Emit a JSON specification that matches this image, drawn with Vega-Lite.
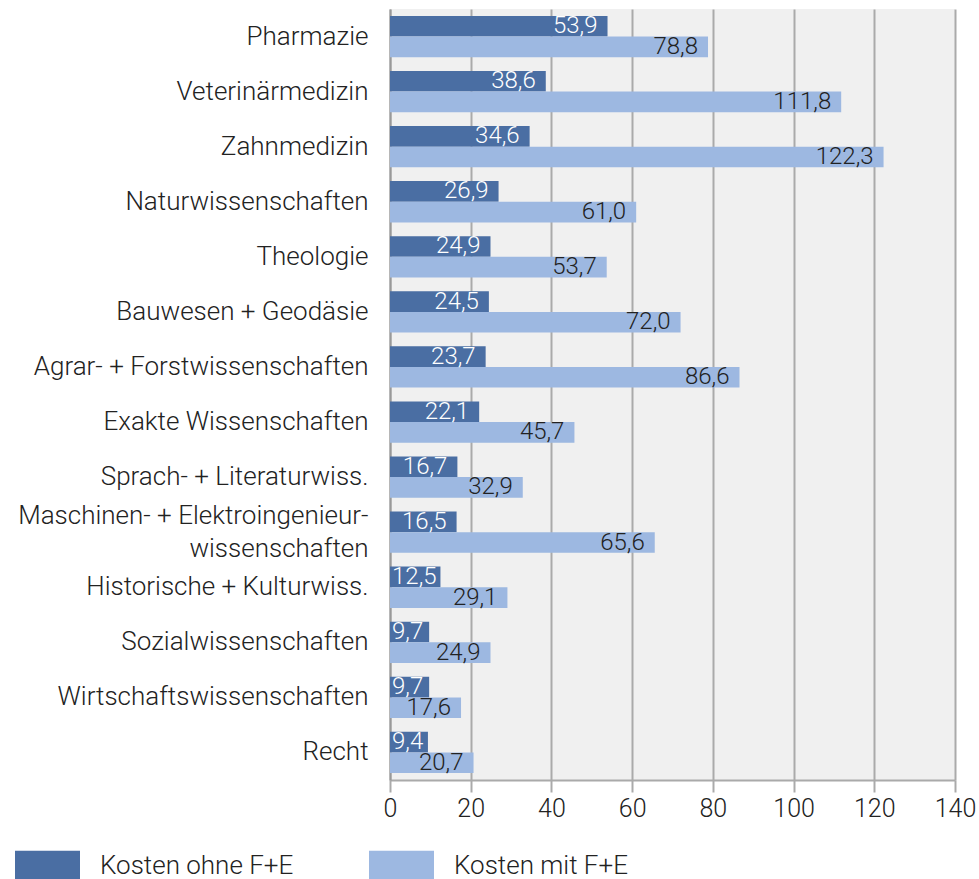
{
  "$schema": "https://vega.github.io/schema/vega-lite/v6.json",
  "autosize": {"type": "none"},
  "padding": {"left": 390, "top": 9, "right": 24, "bottom": 99},
  "width": 565,
  "height": 771,
  "background": "white",
  "config": {
    "locale": {"number": {"decimal": ",", "thousands": ".", "grouping": [3], "currency": ["", " €"]}},
    "font": "Roboto",
    "view": {"fill": "#f0f0f0", "stroke": null},
    "axis": {"labelFont": "Roboto", "labelFontWeight": 300, "labelFontSize": 25, "labelColor": "#222"}
  },
  "data": {"values": [
    {"cat": "Pharmazie", "series": "Kosten ohne F+E", "value": 53.9},
    {"cat": "Pharmazie", "series": "Kosten mit F+E", "value": 78.8},
    {"cat": "Veterinärmedizin", "series": "Kosten ohne F+E", "value": 38.6},
    {"cat": "Veterinärmedizin", "series": "Kosten mit F+E", "value": 111.8},
    {"cat": "Zahnmedizin", "series": "Kosten ohne F+E", "value": 34.6},
    {"cat": "Zahnmedizin", "series": "Kosten mit F+E", "value": 122.3},
    {"cat": "Naturwissenschaften", "series": "Kosten ohne F+E", "value": 26.9},
    {"cat": "Naturwissenschaften", "series": "Kosten mit F+E", "value": 61.0},
    {"cat": "Theologie", "series": "Kosten ohne F+E", "value": 24.9},
    {"cat": "Theologie", "series": "Kosten mit F+E", "value": 53.7},
    {"cat": "Bauwesen + Geodäsie", "series": "Kosten ohne F+E", "value": 24.5},
    {"cat": "Bauwesen + Geodäsie", "series": "Kosten mit F+E", "value": 72.0},
    {"cat": "Agrar- + Forstwissenschaften", "series": "Kosten ohne F+E", "value": 23.7},
    {"cat": "Agrar- + Forstwissenschaften", "series": "Kosten mit F+E", "value": 86.6},
    {"cat": "Exakte Wissenschaften", "series": "Kosten ohne F+E", "value": 22.1},
    {"cat": "Exakte Wissenschaften", "series": "Kosten mit F+E", "value": 45.7},
    {"cat": "Sprach- + Literaturwiss.", "series": "Kosten ohne F+E", "value": 16.7},
    {"cat": "Sprach- + Literaturwiss.", "series": "Kosten mit F+E", "value": 32.9},
    {"cat": "Maschinen- + Elektroingenieur-\nwissenschaften", "series": "Kosten ohne F+E", "value": 16.5},
    {"cat": "Maschinen- + Elektroingenieur-\nwissenschaften", "series": "Kosten mit F+E", "value": 65.6},
    {"cat": "Historische + Kulturwiss.", "series": "Kosten ohne F+E", "value": 12.5},
    {"cat": "Historische + Kulturwiss.", "series": "Kosten mit F+E", "value": 29.1},
    {"cat": "Sozialwissenschaften", "series": "Kosten ohne F+E", "value": 9.7},
    {"cat": "Sozialwissenschaften", "series": "Kosten mit F+E", "value": 24.9},
    {"cat": "Wirtschaftswissenschaften", "series": "Kosten ohne F+E", "value": 9.7},
    {"cat": "Wirtschaftswissenschaften", "series": "Kosten mit F+E", "value": 17.6},
    {"cat": "Recht", "series": "Kosten ohne F+E", "value": 9.4},
    {"cat": "Recht", "series": "Kosten mit F+E", "value": 20.7}
  ]},
  "encoding": {
    "y": {
      "field": "cat", "type": "nominal", "sort": null, "title": null,
      "scale": {"paddingInner": 0.25, "paddingOuter": 0.125},
      "axis": {
        "labelExpr": "split(datum.label, '\\n')", "labelLineHeight": 33, "labelPadding": 22,
        "labelFontSize": 26,
        "labelOffset": {"condition": {"test": "indexof(datum.label, '\\n') >= 0", "value": -16}, "value": 0},
        "ticks": false, "domainColor": "#999", "domainWidth": 2, "labelLimit": 400
      }
    },
    "yOffset": {"field": "series", "type": "nominal", "sort": ["Kosten ohne F+E", "Kosten mit F+E"]},
    "x": {
      "field": "value", "type": "quantitative", "title": null,
      "scale": {"domain": [0, 140], "nice": false},
      "axis": {"values": [0, 20, 40, 60, 80, 100, 120, 140], "format": "d", "grid": true, "gridColor": "#aaa", "gridWidth": 2, "domainColor": "#aaa", "domainWidth": 2, "tickColor": "#aaa", "tickWidth": 2, "tickSize": 12, "labelPadding": 4, "labelFlush": false}
    }
  },
  "layer": [
    {
      "mark": {"type": "bar"},
      "encoding": {
        "color": {
          "field": "series", "type": "nominal", "title": null,
          "sort": ["Kosten ohne F+E", "Kosten mit F+E"],
          "scale": {"domain": ["Kosten ohne F+E", "Kosten mit F+E"], "range": ["#4a6ea3", "#9db8e1"]},
          "legend": {
            "orient": "none", "direction": "horizontal", "legendX": -375, "legendY": 824,
            "symbolType": "M-1,-0.46H1V0.46H-1Z", "symbolSize": 4225, "symbolStrokeWidth": 0,
            "labelFont": "Roboto", "labelFontWeight": 300, "labelFontSize": 26, "labelColor": "#222",
            "labelOffset": 20, "columnPadding": 75, "labelLimit": 400
          }
        }
      }
    },
    {
      "transform": [{"filter": "datum.series == 'Kosten mit F+E' || datum.value >= 15"}],
      "mark": {"type": "text", "align": "right", "baseline": "middle", "dx": -10, "font": "Roboto", "fontWeight": 300, "fontSize": 24},
      "encoding": {
        "text": {"field": "value", "type": "quantitative", "format": ".1f"},
        "color": {"condition": {"test": "datum.series == 'Kosten ohne F+E'", "value": "white"}, "value": "#222"}
      }
    },
    {
      "transform": [{"filter": "datum.series == 'Kosten ohne F+E' && datum.value < 15"}],
      "mark": {"type": "text", "align": "left", "baseline": "middle", "dx": 2, "font": "Roboto", "fontWeight": 300, "fontSize": 24, "color": "white"},
      "encoding": {
        "x": {"datum": 0, "type": "quantitative"},
        "text": {"field": "value", "type": "quantitative", "format": ".1f"}
      }
    }
  ]
}
